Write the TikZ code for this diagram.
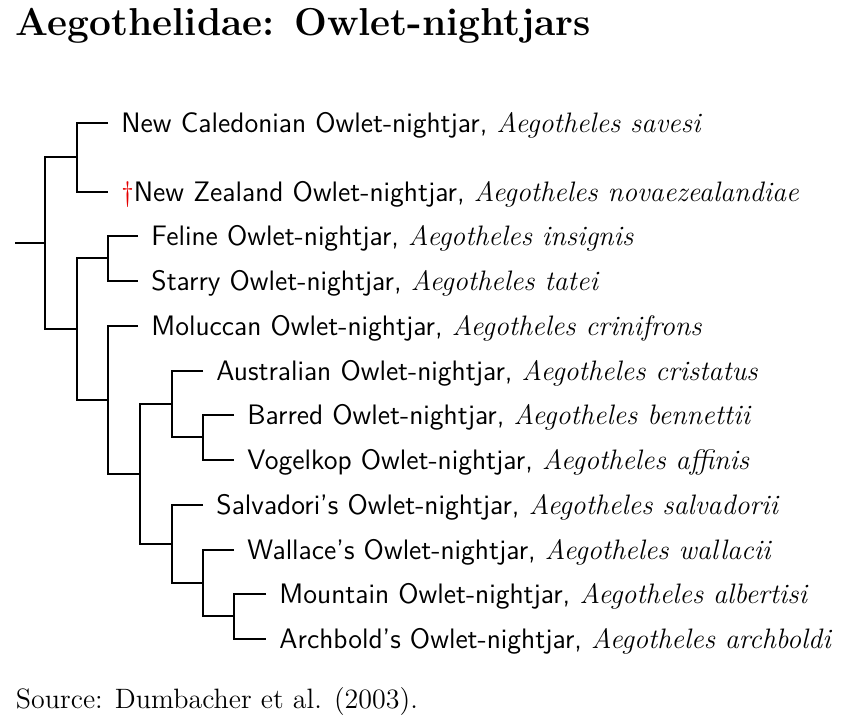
\documentclass[tikz,border=0pt]{standalone}
\usepackage{fontspec}
\usetikzlibrary{calc}
\newcommand{\spn}[1]{\textrm{\textit{#1}}}
\definecolor{extinct}{RGB}{228,0,0}
\begin{document}
\begin{tikzpicture}[x=0.4444pt,y=-0.4444pt,
  branch/.style={line width=0.8888pt},
  lab/.style={anchor=base west, inner sep=0pt, font=\fontsize{12.5}{14}\selectfont\sffamily},
  ttl/.style={anchor=base west, inner sep=0pt, font=\fontsize{17.28}{20}\selectfont\bfseries},
  src/.style={anchor=base west, inner sep=0pt, font=\fontsize{12.45}{14}\selectfont}]
\useasboundingbox (0,0) rectangle (842,725);
% title and source
\node[ttl] (title) at (15.5,36) {Aegothelidae: Owlet-nightjars};
\node[src] (source) at (15.5,708) {Source: Dumbacher et al. (2003).};
% internal nodes
\coordinate (r0) at (15,243);
\coordinate (root) at (45,243);
\coordinate (na) at (77,157);
\coordinate (nd) at (77,329);
\coordinate (nb) at (108,258);
\coordinate (nm) at (108,400);
\coordinate (nc) at (140,474);
\coordinate (nau) at (172,404);
\coordinate (ns) at (172,544);
\coordinate (nbv) at (203,437);
\coordinate (nw) at (203,583);
\coordinate (nmm) at (234,616);
% leaf ends
\coordinate (e1) at (108,123);
\coordinate (e2) at (108,192);
\coordinate (e3) at (138,236);
\coordinate (e4) at (138,281);
\coordinate (e5) at (138,326);
\coordinate (e6) at (203,371);
\coordinate (e7) at (234,415);
\coordinate (e8) at (234,460);
\coordinate (e9) at (203,505);
\coordinate (e10) at (234,550);
\coordinate (e11) at (266,594);
\coordinate (e12) at (266,639);
% branches
\draw[branch] (r0) -- (root);
\draw[branch] (na) -| (root) |- (nd);
\draw[branch] (e1) -| (na) |- (e2);
\draw[branch] (nb) -| (nd) |- (nm);
\draw[branch] (e3) -| (nb) |- (e4);
\draw[branch] (e5) -| (nm) |- (nc);
\draw[branch] (nau) -| (nc) |- (ns);
\draw[branch] (e6) -| (nau) |- (nbv);
\draw[branch] (e7) -| (nbv) |- (e8);
\draw[branch] (e9) -| (ns) |- (nw);
\draw[branch] (e10) -| (nw) |- (nmm);
\draw[branch] (e11) -| (nmm) |- (e12);
% labels
\node[lab] (t1) at ($(e1)+(13,9.5)$) {New Caledonian Owlet-nightjar, \spn{Aegotheles savesi}};
\node[lab] (t2) at ($(e2)+(13,9.5)$) {\textcolor{extinct}{\textdagger}New Zealand Owlet-nightjar, \spn{Aegotheles novaezealandiae}};
\node[lab] (t3) at ($(e3)+(13,9.5)$) {Feline Owlet-nightjar, \spn{Aegotheles insignis}};
\node[lab] (t4) at ($(e4)+(13,9.5)$) {Starry Owlet-nightjar, \spn{Aegotheles tatei}};
\node[lab] (t5) at ($(e5)+(13,9.5)$) {Moluccan Owlet-nightjar, \spn{Aegotheles crinifrons}};
\node[lab] (t6) at ($(e6)+(13,9.5)$) {Australian Owlet-nightjar, \spn{Aegotheles cristatus}};
\node[lab] (t7) at ($(e7)+(13,9.5)$) {Barred Owlet-nightjar, \spn{Aegotheles bennettii}};
\node[lab] (t8) at ($(e8)+(13,9.5)$) {Vogelkop Owlet-nightjar, \spn{Aegotheles affinis}};
\node[lab] (t9) at ($(e9)+(13,9.5)$) {Salvadori's Owlet-nightjar, \spn{Aegotheles salvadorii}};
\node[lab] (t10) at ($(e10)+(13,9.5)$) {Wallace's Owlet-nightjar, \spn{Aegotheles wallacii}};
\node[lab] (t11) at ($(e11)+(13,9.5)$) {Mountain Owlet-nightjar, \spn{Aegotheles albertisi}};
\node[lab] (t12) at ($(e12)+(13,9.5)$) {Archbold's Owlet-nightjar, \spn{Aegotheles archboldi}};
\end{tikzpicture}
\end{document}
